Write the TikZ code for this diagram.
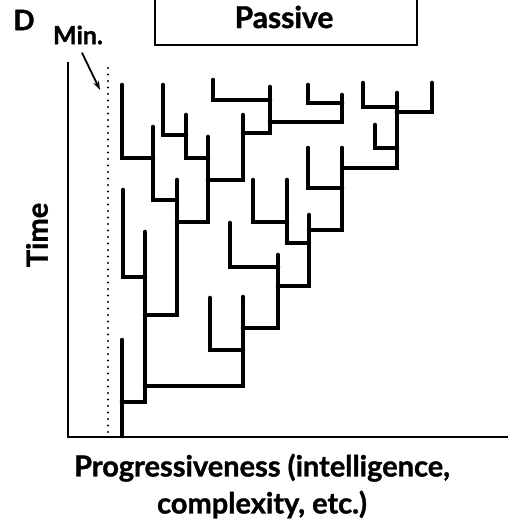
\documentclass[tikz,border=0pt]{standalone}
\usepackage{fontspec}
\setmainfont{Lato}[BoldFeatures={FakeBold=1.2}]
\usepackage{tikz}
\usetikzlibrary{arrows.meta}

\begin{document}
\begin{tikzpicture}[x=1pt, y=-1pt,
  font=\bfseries,
  branch/.style={line width=4.6pt, line cap=round},
  axis/.style={line width=2.2pt},
  lbl/.style={inner sep=0pt, align=center},
  pointer/.style={line width=1.8pt, -{Stealth[length=9pt, width=6pt]}, shorten <=9pt}]
\useasboundingbox (0,0) rectangle (511,530);
\node[lbl, font=\bfseries\fontsize{28}{28}\selectfont] (panel) at (24,20) {D};
\node[lbl, font=\bfseries\fontsize{25}{25}\selectfont] (minlbl) at (78,35) {Min.};
\draw[line width=1.6pt] (155,-5) rectangle (417,45);
\node[lbl, font=\bfseries\fontsize{30}{30}\selectfont] (passive) at (284,17) {Passive};
\node[lbl, rotate=90, font=\bfseries\fontsize{29}{29}\selectfont] (time) at (37,235) {Time};
\node[lbl, font=\bfseries\fontsize{29}{37}\selectfont] (prog) at (262,486) {Progressiveness (intelligence,\\complexity, etc.)};
\coordinate (mintip) at (100,90);
\draw[pointer] (minlbl.south) -- (mintip);
\draw[axis] (68,62) -- (68,437) -- (508,437);
\draw[line width=2.2pt, line cap=round, dash pattern=on 0pt off 6.5pt] (108,68) -- (108,436);
\draw[branch] (122,436) -- (122,340);
\draw[branch] (122,402) -| (145,232);
\draw[branch] (145,277) -| (123,190);
\draw[branch] (145,315) -| (177,180);
\draw[branch] (177,200) -| (153,127);
\draw[branch] (153,158) -| (122,85);
\draw[branch] (177,222) -| (208,137);
\draw[branch] (208,158) -| (186,115);
\draw[branch] (186,135) -| (163,85);
\draw[branch] (208,180) -| (243,115);
\draw[branch] (243,133) -| (270,87);
\draw[branch] (270,100) -| (213,80);
\draw[branch] (270,122) -| (342,95);
\draw[branch] (342,103) -| (308,85);
\draw[branch] (145,386) -| (243,297);
\draw[branch] (243,350) -| (210,298);
\draw[branch] (243,328) -| (278,255);
\draw[branch] (278,267) -| (230,223);
\draw[branch] (278,286) -| (309,215);
\draw[branch] (309,243) -| (287,180);
\draw[branch] (287,222) -| (253,180);
\draw[branch] (309,230) -| (342,148);
\draw[branch] (342,188) -| (308,148);
\draw[branch] (342,168) -| (397,93);
\draw[branch] (397,148) -| (375,125);
\draw[branch] (397,107) -| (363,83);
\draw[branch] (397,112) -| (432,83);
\end{tikzpicture}
\end{document}
